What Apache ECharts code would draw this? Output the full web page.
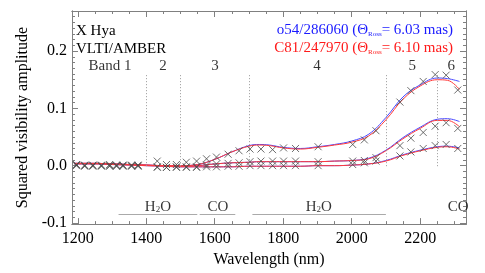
<!DOCTYPE html>
<html><head><meta charset="utf-8">
<script src="https://cdn.jsdelivr.net/npm/echarts@6/dist/echarts.min.js"></script>
<style>html,body{margin:0;padding:0;background:#fff}#c{width:485px;height:273px}</style>
</head><body><div id="c"></div>
<script>
// observed wavelengths (nm)
const wl = [1196,1220,1244,1269,1293,1313,1332,1357,1376,1432,1459,1488,1517,1547,1576,1605,1639,1671,1703,1735,1769,1801,1836,1902,2003,2037,2071,2141,2173,2209,2244,2276,2310];
// observed squared visibilities, three baselines
const obsTop = [0.002,0.001,0.001,0.001,0.002,0.001,0.001,0.001,0.001,0.008,0.002,0.002,0.006,0.008,0.012,0.015,0.020,0.026,0.029,0.029,0.028,0.031,0.030,0.033,0.037,0.045,0.061,0.111,0.131,0.147,0.159,0.158,0.132];
const obsMid = [0.001,0.000,0.000,0.000,0.000,0.000,0.000,0.000,0.000,-0.002,-0.003,-0.002,-0.002,-0.002,0.001,0.003,0.004,0.005,0.007,0.008,0.008,0.008,0.008,0.007,0.008,0.009,0.014,0.035,0.048,0.058,0.069,0.075,0.065];
const obsBot = [0.000,-0.001,-0.001,-0.001,-0.001,-0.001,-0.001,-0.001,-0.001,-0.003,-0.003,-0.003,-0.003,-0.003,-0.002,-0.002,-0.001,-0.001,0.000,0.000,0.000,0.000,0.000,0.000,0.002,0.005,0.008,0.017,0.024,0.030,0.035,0.037,0.030];
// model wavelengths
const mwl = [1190,1250,1300,1350,1400,1450,1500,1550,1600,1650,1700,1730,1760,1800,1850,1900,1950,2000,2050,2100,2150,2200,2250,2280,2315];
// o54/286060 model (blue)
const blueTop = [0.004,0.004,0.003,0.002,0.001,0.000,0.000,0.002,0.011,0.024,0.035,0.037,0.036,0.032,0.030,0.033,0.037,0.043,0.055,0.084,0.120,0.141,0.153,0.152,0.147];
const blueMid = [0.004,0.004,0.003,0.002,0.001,0.000,-0.001,0.000,0.003,0.005,0.006,0.007,0.007,0.007,0.007,0.007,0.008,0.009,0.013,0.027,0.049,0.067,0.081,0.082,0.077];
const blueBot = [0.003,0.003,0.002,0.001,0.000,-0.001,-0.002,-0.002,-0.002,-0.002,-0.001,-0.001,-0.001,-0.001,-0.001,0.000,0.000,0.001,0.003,0.009,0.019,0.027,0.033,0.034,0.031];
// C81/247970 model (red)
const redTop = [0.004,0.004,0.003,0.002,0.001,0.000,0.000,0.002,0.011,0.024,0.034,0.036,0.035,0.031,0.029,0.032,0.036,0.041,0.052,0.080,0.116,0.139,0.150,0.149,0.133];
const redMid = [0.004,0.004,0.003,0.002,0.001,0.000,-0.001,0.000,0.003,0.005,0.006,0.007,0.007,0.007,0.007,0.007,0.008,0.009,0.012,0.026,0.047,0.065,0.079,0.079,0.068];
const redBot = [0.003,0.003,0.002,0.001,0.000,-0.001,-0.002,-0.002,-0.002,-0.002,-0.001,-0.001,-0.001,-0.001,-0.001,0.000,0.000,0.001,0.003,0.008,0.018,0.026,0.032,0.033,0.029];
// band boundaries and labels
const bandEdges = [1400,1500,1700,2100,2250];
const bandNames = ['Band 1','2','3','4','5','6'];
const bandPos = [1294,1449,1601,1899,2177,2291];
// molecular features
const molNames = ['H2O','CO','H2O','CO'];
const molPos = [1434,1609,1904,2311];
const molRanges = [[1319,1549],[1556,1660],[1710,2100]];
// ticks
const xMajor = [1200,1400,1600,1800,2000,2200];
const yMajor = [-0.1,0.0,0.1,0.2];

const XMIN = 1183, XMAX = 2334, YMIN = -0.102, YMAX = 0.27;
const xMinor = []; for (let v = 1200; v <= XMAX; v += 50) xMinor.push(v);
const yMinor = []; for (let i = -10; i <= 27; i++) yMinor.push(+(i*0.01).toFixed(2));

const FONT = 'Liberation Serif';
const AX = '#808080';
const chart = echarts.init(document.getElementById('c'), null, {renderer:'canvas'});

function xa(pos, vals, len, labels, name) {
  return {type:'value', min:XMIN, max:XMAX, position:pos,
    axisLine:{show:true, onZero:false, lineStyle:{color:AX, width:1}},
    axisTick:{show:true, inside:true, length:len, customValues:vals, lineStyle:{color:AX}},
    axisLabel:{show:labels, customValues:vals, color:'#000', fontFamily:FONT, fontSize:16, margin:7,
      formatter:v=>String(Math.round(v))},
    splitLine:{show:false}, name:name||'', nameLocation:'middle', nameGap:25,
    nameTextStyle:{color:'#000', fontFamily:FONT, fontSize:16}};
}
function ya(pos, vals, len, labels, name) {
  return {type:'value', min:YMIN, max:YMAX, position:pos,
    axisLine:{show:true, onZero:false, lineStyle:{color:AX, width:1}},
    axisTick:{show:true, inside:true, length:len, customValues:vals, lineStyle:{color:AX}},
    axisLabel:{show:labels, customValues:vals, color:'#000', fontFamily:FONT, fontSize:16, margin:5,
      formatter:v=>v.toFixed(1)},
    splitLine:{show:false}, name:name||'', nameLocation:'middle', nameGap:40,
    nameTextStyle:{color:'#000', fontFamily:FONT, fontSize:16}};
}
const crossSym = 'path://M0,0L10,10M10,0L0,10';
function obs(arr) {
  return {type:'scatter', xAxisIndex:0, yAxisIndex:0, symbol:crossSym, symbolSize:7,
    itemStyle:{color:'rgba(0,0,0,0)', borderColor:'#4a4a4a', borderWidth:1},
    data: wl.map((w,i)=>[w,arr[i]]), z:5};
}
function model(arr, color) {
  return {type:'line', xAxisIndex:0, yAxisIndex:0, smooth:0.4, showSymbol:false, symbol:'none',
    lineStyle:{color, width:1}, data: mwl.map((w,i)=>[w,arr[i]]), z:color==='#ff3a3a'?4:3};
}
const rich = {
  n:{fontFamily:FONT, fontSize:15, color:'#000'},
  s:{fontFamily:FONT, fontSize:9, color:'#000', verticalAlign:'bottom', padding:[6,0,0,0]}
};
const series = [
  model(blueTop,'#4848ff'), model(blueMid,'#4848ff'), model(blueBot,'#4848ff'),
  model(redTop,'#ff3a3a'), model(redMid,'#ff3a3a'), model(redBot,'#ff3a3a'),
  obs(obsTop), obs(obsMid), obs(obsBot),
  {type:'line', xAxisIndex:0, yAxisIndex:0, data:[], silent:true,
   markLine:{silent:true, symbol:'none', label:{show:false},
     lineStyle:{color:'#999', type:[1,2], width:1},
     data: bandEdges.map(e=>[{coord:[e,0.158]},{coord:[e,-0.002]}])}},
  {type:'line', xAxisIndex:0, yAxisIndex:0, data:[], silent:true,
   markLine:{silent:true, symbol:'none', label:{show:false},
     lineStyle:{color:'#aaa', type:'solid', width:1},
     data: molRanges.map(r=>[{coord:[r[0],-0.0847]},{coord:[r[1],-0.0847]}])}},
  {type:'scatter', xAxisIndex:0, yAxisIndex:0, symbolSize:0, silent:true,
   data: bandPos.map((p,i)=>({value:[p,0.174], name:bandNames[i]})),
   label:{show:true, position:'inside', formatter:p=>p.name, color:'#000', fontFamily:FONT, fontSize:15}},
  {type:'scatter', xAxisIndex:0, yAxisIndex:0, symbolSize:0, silent:true,
   data: molPos.map((p,i)=>({value:[p,-0.0716], name:molNames[i]})),
   label:{show:true, position:'inside', rich,
     formatter:p=>p.name==='H2O' ? '{n|H}{s|2}{n|O}' : '{n|'+p.name+'}'}}
];
const lrich = (c) => ({
  n:{fontFamily:FONT, fontSize:15, fill:c, color:c},
  s:{fontFamily:FONT, fontSize:7, fill:c, color:c, verticalAlign:'bottom', padding:[5,0,0,0]}
});
chart.setOption({
  animation:false,
  grid:{left:72, right:19, top:11, bottom:43, containLabel:false},
  xAxis:[xa('bottom',xMajor,6,true,'Wavelength (nm)'), xa('bottom',xMinor,3,false),
         xa('top',xMajor,6,false), xa('top',xMinor,3,false)],
  yAxis:[ya('left',yMajor,6,true,'Squared visibility amplitude'), ya('left',yMinor,3,false),
         ya('right',yMajor,6,false), ya('right',yMinor,3,false)],
  series,
  graphic:[
    {type:'text', left:76, top:24, style:{text:'X Hya', fontFamily:FONT, fontSize:15, fill:'#000'}},
    {type:'text', left:76, top:42, style:{text:'VLTI/AMBER', fontFamily:FONT, fontSize:15, fill:'#000'}},
    {type:'text', right:32, top:23, style:{text:'{n|o54/286060 (Θ}{s|Ross}{n|= 6.03 mas)}', rich:lrich('#1a1aff')}},
    {type:'text', right:32, top:41, style:{text:'{n|C81/247970 (Θ}{s|Ross}{n|= 6.10 mas)}', rich:lrich('#ff1a1a')}}
  ]
});
</script></body></html>
